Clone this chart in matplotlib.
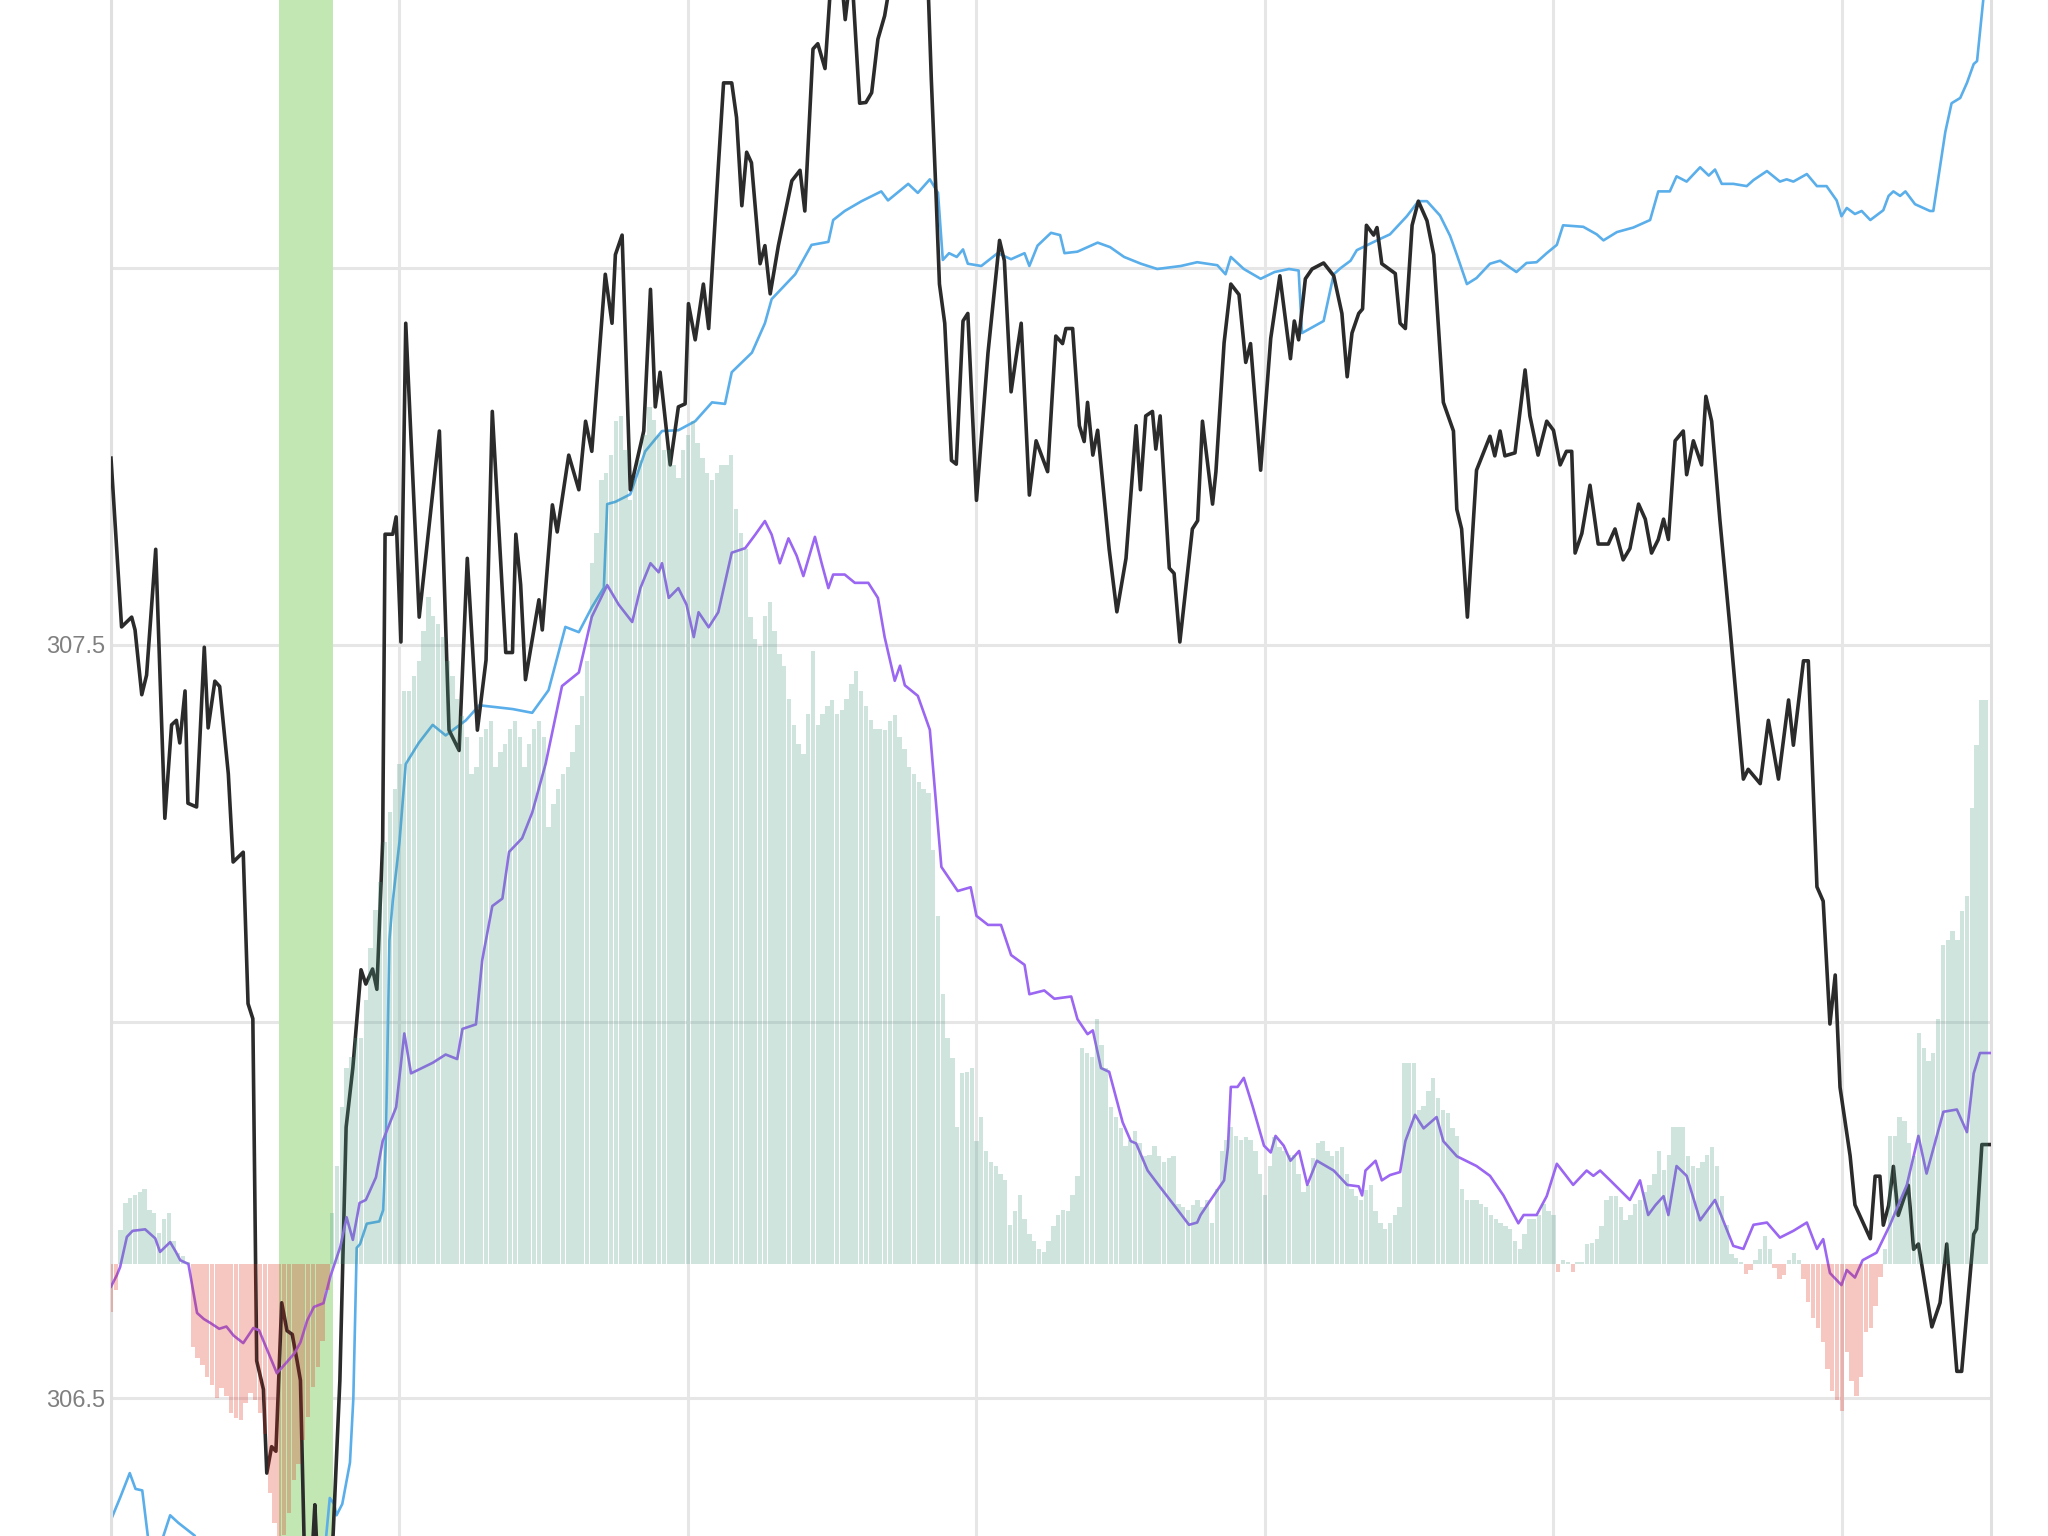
import matplotlib
matplotlib.use("Agg")
import matplotlib.pyplot as plt
import numpy as np

# ---------------- data (minutes since 09:30, 1-minute bars) ----------------
black_min = [0, 2.2, 4.3, 5, 6.4, 7.4, 9.3, 11.2, 12.6, 13.6, 14.3, 15.4, 16, 17.8, 19.4, 20.2, 21.6, 22.6,
             24.4, 25.4, 27.5, 28.5, 29.5, 30.3, 31.7, 32.4, 33.4, 34.3, 35.5, 36.6, 37.7, 38.7, 39.4, 40.2,
             41.2, 42.4, 43.4, 45.2, 46.2, 47.6, 48.9, 50.3, 52, 53, 53.7, 54.4, 55.3, 56.5, 57, 58.6, 59.3,
             60.3, 61.3, 64.1, 68.3, 70.3, 72.4, 74.1, 76.2, 78, 79.3, 82.1, 83.5, 84.2, 85.2, 86.2, 89, 89.7,
             91.8, 92.8, 95.2, 97.3, 98.7, 100, 101.4, 102.8, 104.2, 104.9, 106.3, 108, 109.4, 110.8, 112.2,
             113.2, 114.2, 116.3, 118, 119.4, 120.1, 121.5, 123.2, 124.3, 126.3, 127.4, 129.1, 130.1, 131.2,
             132.2, 133.2, 135, 136, 137.1, 138.8, 141.6, 143.3, 144.3, 146, 147, 148.5, 149.5, 150.5, 152,
             152.7, 154, 155.7, 157, 158.2, 159.5, 160.9, 162.6, 165, 168, 169.8, 170.6, 171.6, 172.3, 173.4,
             174.8, 175.8, 177.2, 178.2, 180, 182.4, 184.8, 185.8, 187.2, 188.2, 189.3, 191, 192.4, 194.8,
             196.5, 197.9, 198.6, 200, 201.4, 202.4, 203.1, 204.2, 205.2, 207.6, 209.2, 211.1, 213.2, 214.1,
             215.2, 216.6, 217.3, 218.2, 220.1, 221.1, 222.3, 224.9, 226, 227, 229.1, 229.8, 231.5, 232.9,
             234.6, 236, 237, 239.1, 241.2, 243.1, 245.3, 246.1, 247, 248.4, 249.8, 252.2, 254.3, 256, 257.1,
             258.1, 259.5, 260.3, 261.1, 262.6, 263.3, 264.3, 267.1, 268.1, 269.2, 270.6, 271.9, 273.7, 275.1,
             277.1, 279.2, 279.9, 280.9, 282.1, 284, 286.8, 287.8, 288.9, 289.9, 292, 294.1, 295.1, 296.8,
             298.6, 300, 301.4, 302.7, 303.8, 304.5, 305.9, 307.6, 309.3, 311.4, 312.8, 314.5, 315.9, 317.7,
             319.1, 320.4, 321.8, 322.9, 323.9, 325.3, 327, 327.7, 329.1, 330.8, 331.7, 332.9, 334.6, 336.7,
             339.5, 340.5, 343, 344.7, 346.8, 348.9, 349.9, 352, 353, 354.8, 356.1, 357.5, 358.6, 359.6,
             361.7, 362.7, 365.9, 366.9, 367.9, 368.6, 369.7, 370.7, 371.7, 373.8, 374.9, 375.9, 378.7,
             380.4, 381.8, 383.9, 384.9, 387.4, 388, 389.1, 390.8]
black_price = [307.748, 307.524, 307.537, 307.52, 307.434, 307.46, 307.627, 307.270, 307.394, 307.40, 307.37,
               307.439, 307.29, 307.285, 307.497, 307.39, 307.452, 307.445, 307.329, 307.212, 307.225, 307.024,
               307.004, 306.55, 306.512, 306.401, 306.436, 306.43, 306.627, 306.59, 306.585, 306.55, 306.524,
               306.30, 306.22, 306.359, 306.22, 306.22, 306.32, 306.524, 306.86, 306.939, 307.069, 307.05,
               307.06, 307.07, 307.043, 307.239, 307.647, 307.647, 307.67, 307.504, 307.927, 307.537, 307.784,
               307.387, 307.36, 307.615, 307.387, 307.48, 307.81, 307.49, 307.49, 307.647, 307.58, 307.454,
               307.56, 307.52, 307.686, 307.65, 307.752, 307.706, 307.797, 307.757, 307.875, 307.992, 307.927,
               308.018, 308.044, 307.706, 307.745, 307.784, 307.972, 307.816, 307.862, 307.739, 307.816,
               307.82, 307.953, 307.905, 307.979, 307.92, 308.134, 308.246, 308.246, 308.20, 308.083, 308.154,
               308.14, 308.006, 308.03, 307.966, 308.03, 308.116, 308.13, 308.076, 308.291, 308.298, 308.265,
               308.36, 308.42, 308.38, 308.33, 308.40, 308.219, 308.22, 308.233, 308.304, 308.335, 308.40,
               308.45, 308.45, 308.40, 308.252, 308.096, 307.979, 307.927, 307.745, 307.74, 307.93, 307.94,
               307.692, 307.888, 308.037, 308.01, 307.836, 307.88, 307.927, 307.699, 307.771, 307.73, 307.91,
               307.90, 307.92, 307.92, 307.791, 307.77, 307.822, 307.752, 307.785, 307.627, 307.544, 307.615,
               307.791, 307.706, 307.804, 307.81, 307.76, 307.804, 307.602, 307.595, 307.504, 307.654, 307.665,
               307.797, 307.687, 307.73, 307.901, 307.979, 307.965, 307.875, 307.90, 307.732, 307.907, 307.99,
               307.88, 307.93, 307.905, 307.986, 307.999, 308.007, 307.99, 307.94, 307.856, 307.914, 307.94,
               307.946, 308.057, 308.044, 308.054, 308.006, 307.993, 307.927, 307.92, 308.057, 308.089,
               308.063, 308.018, 307.822, 307.784, 307.68, 307.654, 307.537, 307.732, 307.777, 307.751,
               307.784, 307.751, 307.755, 307.865, 307.804, 307.752, 307.797, 307.785, 307.739, 307.757,
               307.757, 307.622, 307.648, 307.712, 307.634, 307.634, 307.654, 307.613, 307.628, 307.687,
               307.667, 307.622, 307.64, 307.667, 307.64, 307.771, 307.784, 307.726, 307.771, 307.739, 307.83,
               307.797, 307.667, 307.524, 307.322, 307.335, 307.316, 307.40, 307.322, 307.427, 307.367,
               307.479, 307.479, 307.179, 307.16, 306.997, 307.062, 306.913, 306.822, 306.757, 306.712,
               306.795, 306.795, 306.73, 306.756, 306.808, 306.743, 306.783, 306.698, 306.705, 306.595,
               306.627, 306.705, 306.536, 306.536, 306.718, 306.725, 306.837, 306.837]

blue_min = [0, 2, 3.9, 5.1, 6.5, 7.8, 10, 12.3, 14, 17.4, 19, 25, 35, 44.5, 45.5, 46.4, 46.9, 48.1, 49.7, 50.4,
            51.1, 51.8, 53.2, 55.8, 56.6, 57.2, 57.9, 58.6, 60, 61.3, 64, 66.9, 69.6, 73.8, 76.6, 83.5, 87.6,
            91, 94.5, 97.3, 100, 102.5, 103.2, 104.9, 108, 111.1, 114.6, 118, 121.5, 125, 127.7, 129.1, 133.3,
            136, 137.4, 142.3, 145.7, 149.2, 150.2, 152.6, 156.1, 160.2, 161.6, 165.8, 167.8, 170.3, 172, 173,
            174.3, 175.9, 177.2, 178.2, 181, 184.4, 187.2, 190, 191, 192.7, 195.5, 197.4, 198.3, 201, 205.2,
            207.8, 210.7, 214.2, 217.6, 222.5, 225.9, 230.1, 231.8, 232.9, 235.6, 239.1, 242, 245, 247, 247.7,
            252.2, 254.3, 255.7, 257.8, 259.1, 263.3, 266, 269.5, 271.9, 273.7, 276.4, 278.5, 279.9, 282, 284,
            286.8, 288.9, 292.3, 294.4, 296.5, 298.6, 300.7, 302, 306.2, 309, 310.4, 313.2, 316.6, 320.1,
            321.8, 324.2, 325.6, 327.7, 330.5, 332.3, 333.6, 335, 337.4, 340.2, 341.6, 344.4, 347.1, 348.5,
            349.9, 352.7, 354.8, 356.8, 358.9, 359.9, 361, 362.7, 364.1, 365.9, 368.6, 369.7, 370.7, 372.1,
            373.2, 375.2, 378.3, 379, 381.5, 382.8, 384.6, 386, 387.4, 388.1, 389.4, 390.8]
blue_val = [306.339, 306.37, 306.401, 306.38, 306.378, 306.31, 306.30, 306.345, 306.335, 306.318, 306.29, 306.28,
            306.27, 306.30, 306.368, 306.36, 306.345, 306.36, 306.415, 306.50, 306.70, 306.705, 306.732,
            306.735, 306.75, 306.85, 307.108, 307.16, 307.239, 307.342, 307.37, 307.394, 307.38, 307.40, 307.42,
            307.415, 307.41, 307.44, 307.524, 307.517, 307.55, 307.576, 307.687, 307.69, 307.70, 307.757,
            307.784, 307.785, 307.797, 307.822, 307.82, 307.862, 307.888, 307.927, 307.959, 307.992, 308.031,
            308.035, 308.064, 308.076, 308.089, 308.102, 308.09, 308.112, 308.10, 308.118, 308.10, 308.011,
            308.02, 308.015, 308.025, 308.006, 308.003, 308.02, 308.012, 308.02, 308.003, 308.03, 308.047,
            308.044, 308.02, 308.022, 308.034, 308.028, 308.015, 308.006, 307.999, 308.003, 308.008, 308.004,
            307.992, 308.015, 307.999, 307.986, 307.995, 307.999, 307.997, 307.914, 307.93, 307.992, 308.0,
            308.01, 308.024, 308.037, 308.045, 308.069, 308.089, 308.089, 308.07, 308.043, 308.018, 307.979,
            307.987, 308.006, 308.01, 307.995, 308.007, 308.008, 308.02, 308.031, 308.057, 308.055, 308.045,
            308.037, 308.048, 308.054, 308.064, 308.102, 308.102, 308.122, 308.115, 308.134, 308.123, 308.131,
            308.112, 308.112, 308.109, 308.117, 308.129, 308.115, 308.118, 308.115, 308.125, 308.109, 308.109,
            308.09, 308.069, 308.08, 308.072, 308.076, 308.064, 308.077, 308.096, 308.102, 308.096, 308.102,
            308.085, 308.076, 308.076, 308.181, 308.219, 308.226, 308.246, 308.271, 308.275, 308.357, 308.43]

purple_min = [0, 1.2, 1.9, 3.3, 4.5, 7.1, 9.2, 10.2, 12.3, 13.5, 14.4, 16.1, 17.9, 19.3, 20.6, 22.5, 24, 25.5,
              27.5, 29.6, 30.8, 31.7, 34.5, 36.6, 38.2, 39.4, 40.8, 42.2, 44.2, 45.6, 47.7, 49, 50.3, 51.7, 53,
              55.1, 56.5, 59.3, 61, 62.4, 66.9, 69.6, 72, 73.1, 75.9, 77.2, 79.3, 81.4, 82.8, 85.5, 87.6, 90.4,
              93.8, 97.3, 100, 103.2, 105.6, 108.4, 110.1, 112.2, 113.9, 114.6, 116, 118, 119.7, 121.2, 122.2,
              124.3, 126.3, 129.1, 131.9, 134, 136, 137.4, 139.1, 140.9, 142.6, 144, 146.4, 147.8, 149.2, 150.2,
              152.6, 154.7, 157.5, 159.5, 160.9, 163, 164.1, 165.1, 167.8, 170.3, 172.7, 176.1, 178.8, 180,
              182.4, 185.1, 187.2, 190, 191, 194.1, 196.2, 199.7, 201, 203.1, 204.2, 205.9, 207.6, 210.4, 212.1,
              213.2, 215.6, 217.6, 221.1, 224.2, 225.9, 226.6, 228.7, 231.5, 232.3, 232.9, 234.3, 235.6, 237.4,
              239.8, 241.2, 242.2, 243.9, 245.3, 247.1, 248.8, 250.8, 254.3, 257.1, 259.5, 260.2, 260.9, 263,
              264.3, 266, 268.1, 269.2, 271.2, 273, 275.7, 277.1, 279.9, 284, 286.8, 289.6, 292.7, 293.8, 296.5,
              298.6, 300.7, 304.1, 306.9, 308.3, 309.7, 311.8, 315.9, 318, 319.7, 321.2, 322.9, 323.9, 325.6,
              327.7, 330.5, 333.6, 337.4, 339.5, 341.6, 344.4, 347.1, 349.9, 352.7, 354.8, 356.1, 357.5, 359.9,
              361, 362.7, 364.3, 367.2, 370, 373.5, 375.9, 377.6, 381.1, 383.9, 386, 387.4, 388.7, 390.8]
purple_val = [-3.0, -1.5, -0.4, 3.6, 4.4, 4.6, 3.4, 1.6, 2.9, 1.6, 0.5, 0, -6.5, -7.3, -7.8, -8.6, -8.3, -9.5,
              -10.5, -8.5, -8.8, -10.2, -14.5, -13, -11.8, -10.4, -7.5, -5.7, -5.2, -1.7, 2.3, 6.2, 3.2, 8.1, 8.5,
              11.5, 16.3, 20.8, 30.6, 25.3, 26.7, 27.8, 27.2, 31.2, 31.8, 40.3, 47.5, 48.5, 54.7, 56.5, 59.9,
              66.4, 76.7, 78.5, 85.9, 90.1, 87.5, 85.2, 89.7, 93, 91.8, 93, 88.4, 89.7, 87.5, 83.2, 86.5, 84.5,
              86.5, 94.4, 95, 96.8, 98.6, 96.8, 93, 96.3, 94, 91.3, 96.5, 93, 89.7, 91.5, 91.5, 90.4, 90.4, 88.4,
              83.2, 77.4, 79.4, 76.8, 75.4, 70.9, 52.7, 49.5, 50, 46.2, 45, 45, 41, 39.7, 35.8, 36.3, 35.2, 35.5,
              32.5, 30.5, 31, 26, 25.5, 18.8, 16.3, 16, 12.4, 10.7, 7.8, 5.2, 5.5, 6.5, 8.5, 11.1, 15.5, 23.5,
              23.5, 24.7, 21, 15.7, 14.8, 17, 15.7, 13.7, 15, 10.5, 13.7, 12.4, 10.5, 10.3, 9.1, 12.4, 13.7,
              11.1, 11.8, 12.2, 16.3, 19.8, 18, 19.5, 16.3, 14.3, 13, 11.7, 9.1, 5.4, 6.5, 6.5, 9, 13.3, 10.5,
              12.4, 11.7, 12.4, 11.1, 8.5, 11.1, 6.5, 7.8, 9, 6.5, 13, 11.7, 5.8, 8.5, 2.4, 2, 5.2, 5.5, 3.5,
              4.4, 5.5, 2, 3.3, -1.2, -2.8, -0.8, -1.8, 0.5, 1.5, 5.2, 10.5, 17, 12, 20.2, 20.5, 17.5, 25.3, 28,
              28]

hist_val = [-6.4, -3.5, 4.5, 8.1, 8.8, 9.2, 9.6, 9.9, 7.2, 6.8, 4.1, 6.0, 6.8, 3.1, 1.5, 1.0, 0.3, -11, -12.5,
            -13.4, -15, -16.1, -17.8, -16.5, -17.5, -19.8, -20.5, -20.7, -18.5, -17.1, -18, -19.8, -22.5, -30.4,
            -34.4, -38, -36, -33, -28.7, -26.5, -23.4, -20.3, -16.3, -13.7, -10.2, -3.5, 6.8, 13, 20.8, 26,
            27.5, 30, 30, 35, 42, 47, 50.7, 56, 60, 63, 66.4, 76, 76, 78, 80, 84, 88.5, 86, 85, 83.2, 80, 78, 75,
            72.7, 70, 65, 66, 70, 71, 72, 66, 68, 69, 71, 72, 70, 66, 69, 71, 72, 70, 58, 61, 63, 65, 66, 68,
            71.5, 75.4, 80, 93, 97, 104, 105, 107.4, 111.9, 112.5, 108, 101.4, 104, 106.7, 110, 113.7, 112, 110,
            108, 108, 106, 104.3, 108, 110, 111.9, 109, 107, 105, 104, 105, 106, 106, 107.4, 100.2, 97, 94.9,
            85.9, 83, 82, 86, 87.9, 84, 81, 79.4, 75, 71.5, 69, 67.7, 73, 81.3, 71.5, 73, 74, 74.8, 73, 73.5,
            75, 77, 78.7, 76, 74, 72.2, 71, 71, 70.9, 72, 72.9, 70, 68.3, 66, 65, 64, 63, 62.5, 55, 46.2, 35.8,
            30, 27.3, 18.2, 25.3, 25.5, 26, 16.3, 19.5, 15, 13.5, 13, 12, 11.1, 5.2, 7, 9.1, 6, 4, 3, 2, 1.6,
            3, 5, 6.5, 7.2, 7, 9.1, 11.7, 28.7, 28, 27.5, 32.5, 29, 26, 20.8, 19.5, 18, 15.7, 16.5, 17.6, 16,
            14.3, 14.5, 15.7, 14.3, 13.5, 14, 14.3, 8, 7.5, 7.2, 7.8, 8.5, 7.5, 8.5, 5.5, 10, 15, 16.5, 18.2,
            17, 16.5, 16.8, 16.5, 15, 12, 9.1, 13, 16.8, 15.5, 15, 14.5, 14.5, 12, 9.5, 10.5, 14, 16, 16.3, 15,
            14.3, 15, 15.5, 12, 10, 9, 8.5, 9.8, 10.5, 7, 5.5, 4.6, 5.5, 6.5, 7.5, 26.7, 26.7, 26.7, 20.5, 21,
            23, 24.7, 22, 20.5, 20, 18, 17, 10, 8.5, 8.5, 8.5, 8, 7.5, 6.5, 6, 5.5, 5, 4.6, 3, 2, 4, 6, 6, 6.5,
            8, 7, 6.5, -1, 0.5, 0.3, -1, 0.3, 0.2, 2.6, 2.8, 3.3, 5, 8.5, 9, 9, 7.5, 5.8, 6.5, 8, 8.5, 9.5,
            10.5, 12, 15, 12.5, 14.5, 18.2, 18.2, 18.2, 14.3, 13, 12.7, 13.5, 14.5, 15.5, 13, 9, 5.2, 1.3, 0.8,
            0.3, -1.3, -0.8, 0.5, 2, 3.7, 2, -0.5, -2, -1.5, 0.5, 1.5, 0.5, -2, -5, -7.2, -8.5, -10.4, -14,
            -16.9, -18, -19.5, -11.7, -15.5, -17.5, -15, -9, -8.5, -5.6, -1.7, 2, 17, 17, 19.5, 19, 16, 14.3,
            30.6, 28.7, 27, 28, 32.5, 42.3, 43, 44.2, 43, 46.8, 48.8, 60.5, 68.9, 74.8, 74.8]

band_start, band_end = 34.9, 46.2
price_ticks = [306.5, 307.5]
minor_price_grid = [307.0, 308.0]
hour_grid = [0, 60, 120, 180, 240, 300, 360]

# ---------------- figure ----------------
W, H = 2048, 1536
fig = plt.figure(figsize=(W / 100, H / 100), dpi=100)
fig.patch.set_facecolor("white")
x0, x1 = 111, 1991
ax = fig.add_axes([x0 / W, 0, (x1 - x0) / W, 1])
ax.set_xlim(0, 391)
ylo, yhi = 306.3175, 308.356
ax.set_ylim(ylo, yhi)

grid_col = "#e6e6e6"
ax.set_axisbelow(True)
ax.set_xticks(hour_grid)
ax.set_xticklabels([])
ax.set_yticks(price_ticks)
ax.set_yticklabels([f"{v:.1f}" for v in price_ticks])
ax.set_yticks(minor_price_grid, minor=True)
ax.grid(True, which="both", axis="y", color=grid_col, lw=2.2)
ax.grid(True, which="major", axis="x", color=grid_col, lw=2.2)
ax.tick_params(axis="both", which="both", length=0)
ax.tick_params(axis="y", labelsize=17, labelcolor="#808080", pad=4.5)
for lab in ax.get_yticklabels():
    lab.set_family(["Liberation Sans", "DejaVu Sans"])
for s in ["top", "bottom"]:
    ax.spines[s].set_visible(False)
for s in ["left", "right"]:
    ax.spines[s].set_color("#e0e0e0")
    ax.spines[s].set_linewidth(2.2)

# highlighted band
ax.axvspan(band_start, band_end, color="#c2e7b3", lw=0, zorder=0.8)

# price-scale lines
ax.plot(blue_min, blue_val, color="#5aaeea", lw=1.9, zorder=2)
ax.plot(black_min, black_price, color="#2b2b2b", lw=2.6, zorder=3)

# indicator axis (histogram + signal), drawn on top with translucent bars
ax2 = ax.twinx()
ax2.set_ylim((ylo - 306.6785) * 100, (yhi - 306.6785) * 100)
ax2.set_yticks([])
for s in ax2.spines.values():
    s.set_visible(False)
ax2.patch.set_visible(False)

ax2.plot(purple_min, purple_val, color="#9a66f2", lw=1.9, zorder=1)
mins = np.arange(len(hist_val))
hv = np.array(hist_val)
cols = np.where(hv >= 0, "#4a9a82", "#df2313")
ax2.bar(mins, hv, width=0.9, color=cols, alpha=0.26, lw=0, zorder=2)

fig.savefig("out.png", dpi=100, facecolor="white")
